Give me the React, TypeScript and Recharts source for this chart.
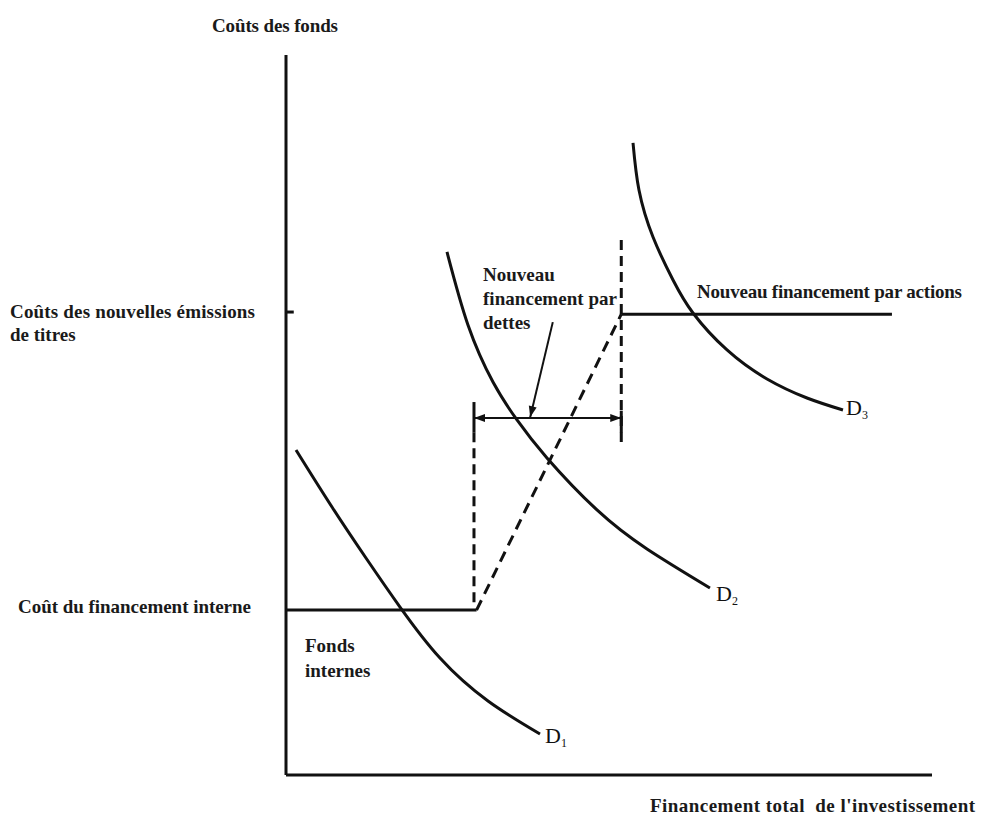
import { LineChart, Line, XAxis, YAxis, ReferenceLine } from 'recharts'

// demand curves (x = total financing, y = cost of funds, 0..100 scale)
const D1_X = [1.55, 7.12, 12.38, 17.65, 23.84, 31.27, 39.32]
const D1_Y = [45.14, 37.22, 30.14, 23.33, 16.25, 10.28, 5.69]
const D2_X = [24.92, 28.17, 32.04, 35.76, 40.4, 48.14, 55.88, 65.63]
const D2_Y = [72.64, 62.5, 54.58, 49.31, 44.03, 36.81, 31.39, 25.97]
const D3_X = [53.72, 54.64, 56.81, 59.91, 63.0, 68.27, 74.46, 80.65, 86.22]
const D3_Y = [87.78, 81.25, 74.72, 68.75, 64.17, 59.03, 55.0, 52.36, 50.69]

// supply of funds steps
const INTERNAL_COST = 22.9
const NEW_ISSUE_COST = 64.0
const DEBT_START = 29.1
const EQUITY_START = 51.9
const SUPPLY_END = 93.8

// debt financing bracket
const BRACKET_Y = 49.6
const CAP_TOP = 51.8
const CAP_BOTTOM = 47.6
const RIGHT_DASH_TOP = 74.3
const RIGHT_DASH_BOTTOM = 45.4
const POINTER_FROM = { x: 41.3, y: 62.9 }
const POINTER_TO = { x: 37.8, y: 49.7 }

const zip = (xs: number[], ys: number[]) => xs.map((x, i) => ({ x, y: ys[i] }))

const d1 = zip(D1_X, D1_Y)
const d2 = zip(D2_X, D2_Y)
const d3 = zip(D3_X, D3_Y)
const internalFunds = [{ x: 0, y: INTERNAL_COST }, { x: DEBT_START + 0.4, y: INTERNAL_COST }]
const debtFunds = [{ x: DEBT_START + 0.4, y: INTERNAL_COST }, { x: EQUITY_START, y: NEW_ISSUE_COST }]
const equityFunds = [{ x: EQUITY_START, y: NEW_ISSUE_COST }, { x: SUPPLY_END, y: NEW_ISSUE_COST }]

const INK = '#111'

const head = (tx: number, ty: number, fx: number, fy: number, len = 11, half = 4) => {
  const dx = tx - fx
  const dy = ty - fy
  const d = Math.hypot(dx, dy) || 1
  const ux = dx / d
  const uy = dy / d
  const bx = tx - ux * len
  const by = ty - uy * len
  return `${tx},${ty} ${bx - uy * half},${by + ux * half} ${bx + uy * half},${by - ux * half}`
}

const arrowShape = (atStart: boolean, atEnd: boolean) => (props: any) => {
  const { x1, y1, x2, y2 } = props
  return (
    <g>
      <line x1={x1} y1={y1} x2={x2} y2={y2} stroke={INK} strokeWidth={2} />
      {atStart && <polygon points={head(x1, y1, x2, y2)} fill={INK} />}
      {atEnd && <polygon points={head(x2, y2, x1, y1)} fill={INK} />}
    </g>
  )
}

const T = ({ x, y, children, size = 19, len }: any) => (
  <text
    x={x}
    y={y}
    fontSize={size}
    fontWeight="bold"
    fill="#1a1a1a"
    fontFamily="'Liberation Serif', 'Times New Roman', serif"
    textLength={len}
    style={{ whiteSpace: 'pre' }}
  >
    {children}
  </text>
)

const DLabel = ({ x, y, n }: any) => (
  <text x={x} y={y} fontSize={22} fill="#111" fontFamily="'Liberation Serif', serif">
    D<tspan fontSize={12} dy={4}>{n}</tspan>
  </text>
)

export default function App() {
  return (
    <div style={{ position: 'absolute', left: 0, top: 0, width: 982, height: 816, background: '#fff' }}>
      <LineChart width={982} height={816} margin={{ top: 55, right: 50, left: 286, bottom: 41 }}>
        <XAxis dataKey="x" type="number" domain={[0, 100]} hide />
        <YAxis type="number" domain={[0, 100]} hide />

        {/* axes */}
        <ReferenceLine ifOverflow="visible" segment={[{ x: 0, y: 0 }, { x: 0, y: 100 }]} stroke={INK} strokeWidth={3} />
        <ReferenceLine ifOverflow="visible" segment={[{ x: 0, y: 0 }, { x: 100, y: 0 }]} stroke={INK} strokeWidth={3} />

        {/* tick for new issue cost */}
        <ReferenceLine ifOverflow="visible" segment={[{ x: 0, y: NEW_ISSUE_COST + 0.3 }, { x: 1.2, y: NEW_ISSUE_COST + 0.3 }]} stroke={INK} strokeWidth={3} />

        {/* dashed verticals */}
        <ReferenceLine segment={[{ x: DEBT_START, y: CAP_BOTTOM }, { x: DEBT_START, y: INTERNAL_COST + 0.5 }]} stroke={INK} strokeWidth={3} strokeDasharray="10 6" />
        <ReferenceLine segment={[{ x: EQUITY_START, y: RIGHT_DASH_TOP }, { x: EQUITY_START, y: RIGHT_DASH_BOTTOM }]} stroke={INK} strokeWidth={3} strokeDasharray="10 6" />
        <ReferenceLine segment={[{ x: DEBT_START, y: CAP_TOP }, { x: DEBT_START, y: CAP_BOTTOM }]} stroke={INK} strokeWidth={3} />
        <ReferenceLine segment={[{ x: EQUITY_START, y: CAP_TOP - 1.2 }, { x: EQUITY_START, y: CAP_BOTTOM }]} stroke={INK} strokeWidth={3} />

        {/* bracket and pointer */}
        <ReferenceLine segment={[{ x: DEBT_START, y: BRACKET_Y }, { x: EQUITY_START, y: BRACKET_Y }]} shape={arrowShape(true, true)} />
        <ReferenceLine segment={[POINTER_FROM, POINTER_TO]} shape={arrowShape(false, true)} />

        {/* supply of funds */}
        <Line data={internalFunds} dataKey="y" stroke={INK} strokeWidth={3} dot={false} isAnimationActive={false} />
        <Line data={debtFunds} dataKey="y" stroke={INK} strokeWidth={3} strokeDasharray="11 7" dot={false} isAnimationActive={false} />
        <Line data={equityFunds} dataKey="y" stroke={INK} strokeWidth={3} dot={false} isAnimationActive={false} />

        {/* demand curves */}
        <Line data={d1} dataKey="y" type="natural" stroke={INK} strokeWidth={3} dot={false} isAnimationActive={false} />
        <Line data={d2} dataKey="y" type="natural" stroke={INK} strokeWidth={3} dot={false} isAnimationActive={false} />
        <Line data={d3} dataKey="y" type="natural" stroke={INK} strokeWidth={3} dot={false} isAnimationActive={false} />
      </LineChart>

      <svg width={982} height={816} style={{ position: 'absolute', left: 0, top: 0, pointerEvents: 'none' }}>
        <T x={212} y={32} len={126}>Coûts des fonds</T>
        <T x={10} y={318} len={245}>Coûts des nouvelles émissions</T>
        <T x={10} y={341}>de titres</T>
        <T x={18} y={613} len={233}>Coût du financement interne</T>
        <T x={305} y={652}>Fonds</T>
        <T x={305} y={677}>internes</T>
        <T x={483} y={281}>Nouveau</T>
        <T x={483} y={305} len={134}>financement par</T>
        <T x={483} y={329}>dettes</T>
        <T x={697} y={298} len={265}>Nouveau financement par actions</T>
        <T x={650} y={812} len={325}>Financement total  de l'investissement</T>
        <DLabel x={545} y={743} n="1" />
        <DLabel x={716} y={601} n="2" />
        <DLabel x={846} y={415} n="3" />
      </svg>
    </div>
  )
}
